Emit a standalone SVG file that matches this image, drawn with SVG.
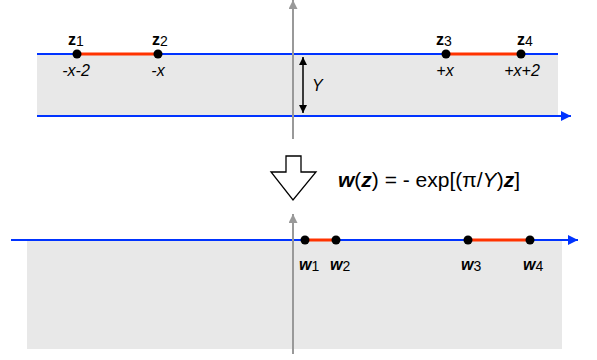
<svg xmlns="http://www.w3.org/2000/svg" width="597" height="360" viewBox="0 0 597 360">
<defs>
<marker id="ab" viewBox="0 0 10 10" refX="10" refY="5" markerWidth="10" markerHeight="10" markerUnits="userSpaceOnUse" orient="auto"><path d="M0,0 L10,5 L0,10 z" fill="#0033ff"/></marker>
<marker id="ag" viewBox="0 0 10 10" refX="10" refY="5" markerWidth="9" markerHeight="9" markerUnits="userSpaceOnUse" orient="auto"><path d="M0,0 L10,5 L0,10 z" fill="#999999"/></marker>
<marker id="ak" viewBox="0 0 10 10" refX="10" refY="5" markerWidth="8" markerHeight="8" markerUnits="userSpaceOnUse" orient="auto-start-reverse"><path d="M0,0 L10,5 L0,10 z" fill="#000"/></marker>
</defs>
<style>
.fill{fill:#e8e8e8}
.blue{stroke:#0033ff;stroke-width:2.2;fill:none}
.red{stroke:#ff3300;stroke-width:3;fill:none}
.axis{stroke:#999999;stroke-width:2;fill:none}
.dot{fill:#000}
text{font-family:"Liberation Sans",Arial,sans-serif;fill:#000}
.lab{font-size:16px;font-weight:bold}
.wl{font-size:16px;font-weight:bold;font-style:italic}
.sub{font-size:14px;font-weight:normal;font-style:normal}
.num{font-size:16px;font-style:italic}
.eq{font-size:21px}
</style>
<g id="top-plane">
<rect class="fill" x="37" y="54" width="521" height="62"/>
<line class="blue" x1="37" y1="54" x2="558" y2="54"/>
<line class="blue" x1="37" y1="116" x2="571" y2="116" marker-end="url(#ab)"/>
<line class="axis" x1="293" y1="139" x2="293" y2="0" marker-end="url(#ag)"/>
<line stroke="#000" stroke-width="1.5" x1="303" y1="57" x2="303" y2="113" marker-start="url(#ak)" marker-end="url(#ak)"/>
<text class="num" x="312" y="91">Y</text>
</g>
<g id="z-segments">
<line class="red" x1="77" y1="54" x2="158" y2="54"/>
<line class="red" x1="446" y1="54" x2="521" y2="54"/>
</g>
<g id="z1"><circle class="dot" cx="77" cy="54" r="4.5"/><text class="lab" x="68" y="45">z<tspan class="sub" dy="1">1</tspan></text><text class="num" x="76" y="76" text-anchor="middle">-x-2</text></g>
<g id="z2"><circle class="dot" cx="158" cy="54" r="4.5"/><text class="lab" x="152" y="45">z<tspan class="sub" dy="1">2</tspan></text><text class="num" x="158" y="76" text-anchor="middle">-x</text></g>
<g id="z3"><circle class="dot" cx="446" cy="54" r="4.5"/><text class="lab" x="436" y="45">z<tspan class="sub" dy="1">3</tspan></text><text class="num" x="445" y="76" text-anchor="middle">+x</text></g>
<g id="z4"><circle class="dot" cx="521" cy="54" r="4.5"/><text class="lab" x="517" y="45">z<tspan class="sub" dy="1">4</tspan></text><text class="num" x="522" y="76" text-anchor="middle">+x+2</text></g>
<g id="transform">
<polygon points="286,156 301,156 301,172 316,172 293,200 271,172 286,172" fill="#fff" stroke="#000" stroke-width="1.3"/>
<text class="eq" x="338" y="187"><tspan font-weight="bold" font-style="italic">w</tspan>(<tspan font-weight="bold" font-style="italic">z</tspan>) = - exp[(π/<tspan font-style="italic">Y</tspan>)<tspan font-weight="bold" font-style="italic">z</tspan>]</text>
</g>
<g id="bottom-plane">
<rect class="fill" x="27" y="240" width="535" height="109"/>
<line class="blue" x1="11" y1="240" x2="578" y2="240" marker-end="url(#ab)"/>
<line class="axis" x1="293" y1="354" x2="293" y2="214" marker-end="url(#ag)"/>
</g>
<g id="w-segments">
<line class="red" x1="305" y1="240" x2="336" y2="240"/>
<line class="red" x1="468" y1="240" x2="530" y2="240"/>
</g>
<g id="w1"><circle class="dot" cx="305" cy="240" r="4.5"/><text class="wl" x="299" y="270">w<tspan class="sub" dy="1">1</tspan></text></g>
<g id="w2"><circle class="dot" cx="336" cy="240" r="4.5"/><text class="wl" x="330" y="270">w<tspan class="sub" dy="1">2</tspan></text></g>
<g id="w3"><circle class="dot" cx="468" cy="240" r="4.5"/><text class="wl" x="461" y="270">w<tspan class="sub" dy="1">3</tspan></text></g>
<g id="w4"><circle class="dot" cx="530" cy="240" r="4.5"/><text class="wl" x="523" y="270">w<tspan class="sub" dy="1">4</tspan></text></g>
</svg>
